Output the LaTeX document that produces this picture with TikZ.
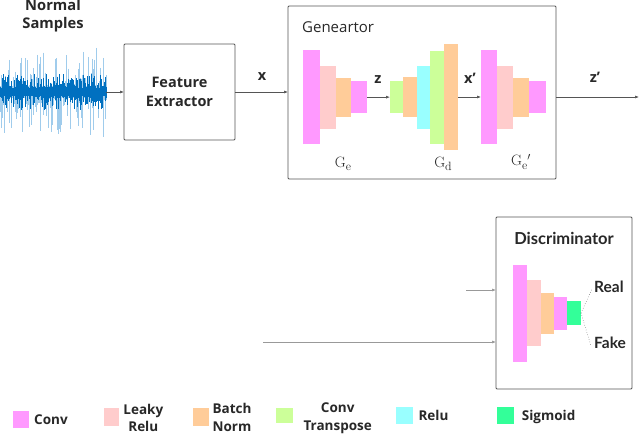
\documentclass[tikz,border=0pt]{standalone}
\usepackage{fontspec}
\setmainfont{Open Sans}
\newfontfamily\latofont{Lato}
\newfontfamily\serifg{Latin Modern Roman}
\usetikzlibrary{arrows.meta,fit}
\definecolor{conv}{RGB}{255,153,255}
\definecolor{leaky}{RGB}{255,204,204}
\definecolor{batch}{RGB}{255,204,153}
\definecolor{convt}{RGB}{204,255,153}
\definecolor{relu}{RGB}{153,255,255}
\definecolor{sigm}{RGB}{51,255,153}
\definecolor{wavedark}{RGB}{0,112,192}
\definecolor{wavelight}{RGB}{160,204,236}
\definecolor{boxline}{RGB}{85,85,85}
\definecolor{txt}{RGB}{40,40,40}
\newcommand\layerbox[6]{\node[layer, fill=#2, fit={(#3,#4) (#5,#6)}] (#1) {};}
\newcommand\gsub[1]{\raisebox{-3.5pt}{\fontsize{12}{12}\selectfont #1}}
\begin{document}
\begin{tikzpicture}[x=1pt,y=-1pt,
  layer/.style={inner sep=0pt, outer sep=0pt, draw=none},
  frame/.style={draw=boxline, line width=0.9pt, inner sep=0pt, outer sep=0pt, rounded corners=1pt},
  arr/.style={draw=boxline, line width=0.6pt, -{Latex[length=4pt,width=3pt]}},
  farr/.style={draw=black!40, line width=0.6pt, -{Latex[length=4pt,width=3pt]}},
  lbl/.style={font=\bfseries\fontsize{14.5}{18.3}\selectfont, text=txt, inner sep=0pt},
  leg/.style={font=\bfseries\fontsize{13.5}{17.7}\selectfont, text=txt, inner sep=0pt, align=center},
  glab/.style={font=\serifg\fontsize{15}{16}\selectfont, text=txt, inner sep=0pt},
  dlab/.style={font=\latofont\bfseries\fontsize{15.5}{16}\selectfont, text=txt, inner sep=0pt},
  dot/.style={draw=boxline, dotted, line width=0.5pt}
]
\useasboundingbox (0,0) rectangle (640,434);
\fill[white] (0,0) rectangle (640,434);

% waveform
\pgfmathsetseed{12}
\foreach \i in {0,...,265}{
  \pgfmathsetmacro\xx{\i*0.4}
  \pgfmathsetmacro\up{6+40*rnd^10}
  \pgfmathsetmacro\dn{6+40*rnd^10}
  \draw[wavelight, line width=0.35pt] (\xx,92-\up) -- (\xx,92+\dn);
}
\foreach \i in {0,...,265}{
  \pgfmathsetmacro\xx{\i*0.4}
  \pgfmathsetmacro\up{4+14*rnd^4}
  \pgfmathsetmacro\dn{4+14*rnd^4}
  \draw[wavedark, line width=0.45pt] (\xx,92-\up) -- (\xx,92+\dn);
}
\fill[wavedark] (0,88) rectangle (106,96);
\coordinate (wave) at (106,92);
\node[lbl, font=\bfseries\fontsize{14.7}{18}\selectfont, align=center] (ns) at (53,16) {Normal\\Samples};

% feature extractor
\node[frame, fit={(124,44) (235,140)}] (fe) {};
\node[lbl, align=center] (fet) at (fe.center) {Feature\\Extractor};
\draw[arr] (wave) -- (fe.west |- wave);

% generator
\node[frame, fit={(288,6) (556,179)}] (gen) {};
\node[font=\fontsize{15}{16}\selectfont, text=txt, anchor=west, inner sep=0pt] (gent) at (302,27) {Geneartor};
\draw[arr] (fe.east) -- (gen.west |- fe.east);
\node[lbl] (xl) at (262,77) {x};

\layerbox{ea}{conv}{303.3}{50}{320}{144}
\layerbox{eb}{leaky}{320}{66}{335.7}{129.3}
\layerbox{ec}{batch}{335.7}{77.7}{350.7}{117.3}
\layerbox{ed}{conv}{350.7}{81}{367.3}{113.3}

\layerbox{da}{convt}{390}{81}{403.3}{113.3}
\layerbox{db}{batch}{403.3}{77.3}{417.3}{117.3}
\layerbox{dc}{relu}{417.3}{65.7}{430}{129.3}
\layerbox{dd}{convt}{430}{50.7}{444}{144}
\layerbox{de}{batch}{444}{44}{458.3}{150}

\layerbox{fa}{conv}{481}{50}{497.3}{144}
\layerbox{fb}{leaky}{497.3}{66}{513.3}{129.3}
\layerbox{fc}{batch}{513.3}{77.7}{529}{117.3}
\layerbox{fd}{conv}{529}{81}{545.7}{113.3}

\draw[arr] (ed.east) -- (da.west |- ed.east);
\node[lbl] (zl) at (378,80) {z};
\draw[arr] (de.east) -- (fa.west |- de.east);
\node[lbl] (xpl) at (470,78) {x'};
\coordinate (zend) at (639,97);
\draw[arr] (gen.east |- zend) -- (zend);
\node[lbl] (zpl) at (595,77) {z'};

\node[glab] (gel) at (343,164) {G\gsub{e}};
\node[glab] (gdl) at (443,164) {G\gsub{d}};
\node[glab] (gepl) at (521,162) {G\gsub{e}$'$};

% discriminator
\node[frame, fit={(496,217) (632,389)}] (disc) {};
\node[font=\latofont\bfseries\fontsize{16.5}{18}\selectfont, text=txt, inner sep=0pt] (disct) at (564,238) {Discriminator};
\layerbox{ka}{conv}{513.3}{265}{527.3}{362.3}
\layerbox{kb}{leaky}{527.3}{280}{541}{346}
\layerbox{kc}{batch}{541}{292.7}{554}{334}
\layerbox{kd}{conv}{554}{297.3}{567.3}{329.7}
\layerbox{ke}{sigm}{567.3}{301}{581}{325}
\node[dlab, anchor=west] (real) at (594,287) {Real};
\node[dlab, anchor=west] (fake) at (594,343) {Fake};
\draw[dot] (ke.east) -- ([xshift=-2pt,yshift=-2pt]real.west);
\draw[dot] (ke.east) -- ([xshift=-3pt,yshift=-3pt]fake.west);
\coordinate (in1) at (466,290);
\coordinate (in2) at (263,342);
\draw[farr] (in1) -- (disc.west |- in1);
\draw[farr] (in2) -- (disc.west |- in2);

% legend
\layerbox{s1}{conv}{12.7}{411}{28.7}{428.3}
\node[leg, anchor=west] (t1) at (34,420) {Conv};
\layerbox{s2}{leaky}{104}{408.3}{119.3}{425.7}
\node[leg] (t2) at (143.3,418) {Leaky\\Relu};
\layerbox{s3}{batch}{192.7}{408.3}{208.7}{425.7}
\node[leg] (t3) at (232,417.5) {Batch\\Norm};
\layerbox{s4}{convt}{276}{407.7}{292.7}{422.7}
\node[leg] (t4) at (337.7,418) {Conv\\Transpose};
\layerbox{s5}{relu}{396}{406.7}{412.7}{424}
\node[leg, anchor=west] (t5) at (418.3,415.7) {Relu};
\layerbox{s6}{sigm}{496.7}{407.3}{514}{424}
\node[leg, anchor=west] (t6) at (521.7,417.3) {Sigmoid};
\end{tikzpicture}
\end{document}
